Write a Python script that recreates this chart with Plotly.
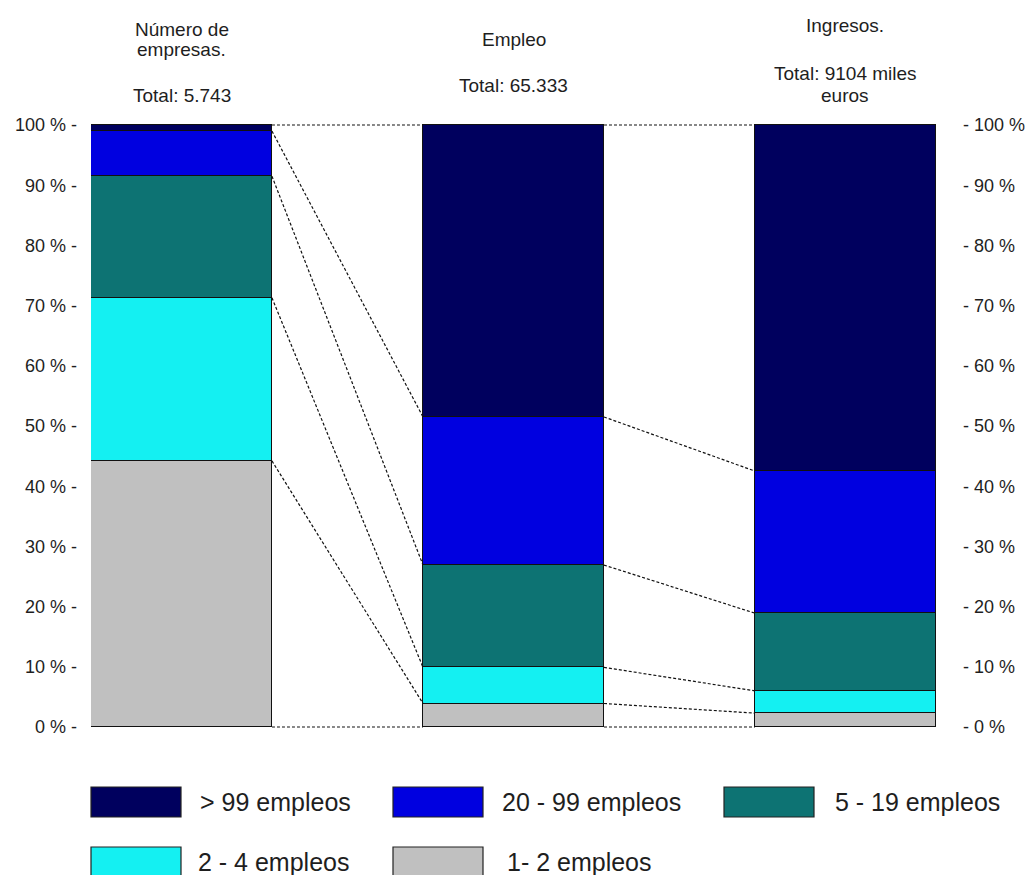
import plotly.graph_objects as go

# ---------------- data ----------------
groups = ["Número de empresas", "Empleo", "Ingresos"]
group_titles = ["Número de<br>empresas.", "Empleo", "Ingresos."]
group_totals = ["Total: 5.743", "Total: 65.333", "Total: 9104 miles<br>euros"]
categories = ["1- 2 empleos", "2 - 4 empleos", "5 - 19 empleos", "20 - 99 empleos", "> 99 empleos"]
colors = ["#C0C0C0", "#14F0F2", "#0D7373", "#0000E0", "#00005E"]
# percentage shares per category (bottom to top) for each group
share_1_2 = [44.2, 3.9, 2.3]
share_2_4 = [27.1, 6.0, 3.7]
share_5_19 = [20.2, 17.0, 12.9]
share_20_99 = [7.5, 24.6, 23.6]
share_99 = [1.0, 48.5, 57.5]
series = [share_1_2, share_2_4, share_5_19, share_20_99, share_99]
tick_vals = [0, 10, 20, 30, 40, 50, 60, 70, 80, 90, 100]
left_tick_text = [f"{v} % -" for v in tick_vals]
right_tick_text = [f"- {v} %" for v in tick_vals]
legend_order = ["> 99 empleos", "20 - 99 empleos", "5 - 19 empleos", "2 - 4 empleos", "1- 2 empleos"]

# ---------------- layout geometry ----------------
W, H = 1030, 875
L, R, T, B = 91, 94, 122, 145
PW, PH = W - L - R, H - T - B
bar_w = 0.545
FONT = "Arial, Liberation Sans, sans-serif"
TXT = "#1e1e1e"

def px_x(px):
    return (px - L) / PW

def px_y(py):
    return (H - B - py) / PH

xs = [0, 1, 2]
fig = go.Figure()
for cat, col, vals in zip(categories, colors, series):
    fig.add_trace(go.Bar(
        x=xs, y=vals, name=cat, width=bar_w,
        marker=dict(color=col, line=dict(color="#111111", width=1.3)),
        showlegend=False, hoverinfo="skip"))

# cumulative boundaries for connector lines
cum = []
for g in range(3):
    acc = [0.0]
    for vals in series:
        acc.append(acc[-1] + vals[g])
    cum.append(acc)

half = bar_w / 2
for g in range(2):
    for k in range(len(cum[g])):
        y0 = min(cum[g][k], 100)
        y1 = min(cum[g + 1][k], 100)
        fig.add_trace(go.Scatter(
            x=[xs[g] + half, xs[g + 1] - half], y=[y0, y1],
            mode="lines", line=dict(color="#111111", width=1.2, dash="3px,2px"),
            showlegend=False, hoverinfo="skip", yaxis="y"))

# invisible trace on right axis
fig.add_trace(go.Scatter(x=[0], y=[0], yaxis="y2", mode="markers",
                         marker=dict(opacity=0), showlegend=False, hoverinfo="skip"))

annotations = []
# group titles
title_y = [[29, 50], [40], [26]]
total_y = [[95], [85], [74, 96]]
centers_px = [181.5, 513.5, 845]
TS = 19
for i in range(3):
    for line, yy in zip(group_titles[i].split("<br>"), title_y[i]):
        annotations.append(dict(x=px_x(centers_px[i]), y=px_y(yy), xref="paper", yref="paper",
                                text=line, showarrow=False, xanchor="center", yanchor="middle",
                                font=dict(family=FONT, size=TS, color=TXT)))
    for line, yy in zip(group_totals[i].split("<br>"), total_y[i]):
        annotations.append(dict(x=px_x(centers_px[i]), y=px_y(yy), xref="paper", yref="paper",
                                text=line, showarrow=False, xanchor="center", yanchor="middle",
                                font=dict(family=FONT, size=TS, color=TXT)))

# custom legend with large swatches
shapes = []
leg_pos = [(91, 802), (393, 802), (724, 802), (91, 862), (393, 862)]
text_off = [17, 17, 19, 15, 22]
for lab, (lx, ly), off in zip(legend_order, leg_pos, text_off):
    col = colors[categories.index(lab)]
    shapes.append(dict(type="rect", xref="paper", yref="paper",
                       x0=px_x(lx), x1=px_x(lx + 90), y0=px_y(ly + 15), y1=px_y(ly - 15),
                       fillcolor=col, line=dict(color="#222222", width=1.2)))
    annotations.append(dict(x=px_x(lx + 90 + off), y=px_y(ly), xref="paper", yref="paper",
                            text=lab, showarrow=False, xanchor="left", yanchor="middle",
                            font=dict(family=FONT, size=25, color=TXT)))

fig.update_layout(
    width=W, height=H,
    margin=dict(l=L, r=R, t=T, b=B, pad=0, autoexpand=False),
    paper_bgcolor="white", plot_bgcolor="white",
    barmode="stack", bargap=0,
    xaxis=dict(range=[-half, 2 + half], showticklabels=False, showgrid=False,
               zeroline=False, showline=False, fixedrange=True, automargin=False),
    yaxis=dict(range=[-0.5, 100.5], tickvals=tick_vals, ticktext=left_tick_text,
               showgrid=False, zeroline=False, showline=False, ticks="",
               ticklabelstandoff=13, automargin=False,
               tickfont=dict(family=FONT, size=18, color=TXT)),
    yaxis2=dict(range=[-0.5, 100.5], tickvals=tick_vals, ticktext=right_tick_text,
                overlaying="y", side="right", anchor="x",
                showgrid=False, zeroline=False, showline=False, ticks="",
                ticklabelstandoff=26, automargin=False,
                tickfont=dict(family=FONT, size=18, color=TXT)),
    annotations=annotations,
    shapes=shapes,
    showlegend=False,
)

fig.write_html("out.html")
